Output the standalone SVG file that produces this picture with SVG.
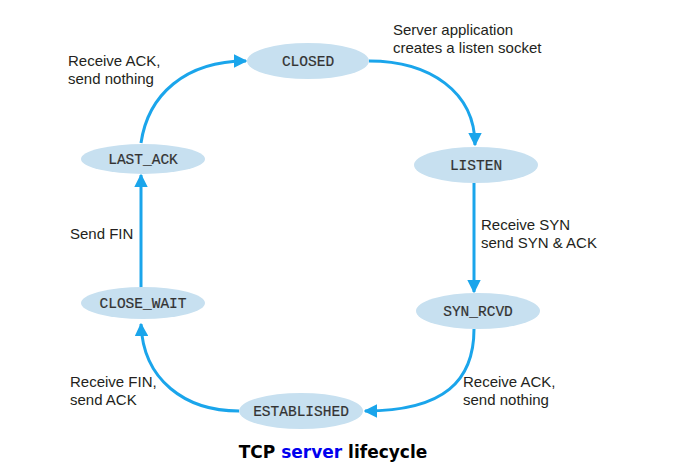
<svg xmlns="http://www.w3.org/2000/svg" width="698" height="470" viewBox="0 0 698 470">
<style>
.node ellipse{fill:#c7e0f0;stroke:none}
.node text{font-family:"Liberation Mono",monospace;font-size:14.5px;fill:#333;stroke:#333;stroke-width:0.2;text-anchor:middle}
.lbl{font-family:"Liberation Sans",Arial,sans-serif;font-size:15px;fill:#231f20}
.conn path{fill:none;stroke:#1aa5eb;stroke-width:3}
.title{font-family:"Comic Sans MS","DejaVu Sans",sans-serif;font-weight:bold;font-size:17px;text-anchor:middle}
</style>
<defs>
<marker id="ah" viewBox="0 0 10 10" refX="9" refY="5" markerWidth="4.5" markerHeight="4.5" orient="auto" markerUnits="strokeWidth">
<path d="M0,0 L10,5 L0,10 Z" fill="#1aa5eb"/>
</marker>
</defs>
<rect width="698" height="470" fill="#fff"/>
<g class="conn">
<path d="M141,143 C148,95 185,61 246,61" marker-end="url(#ah)"/>
<path d="M369,61 C430,61 475,92 475,145" marker-end="url(#ah)"/>
<path d="M474,183 L474,292" marker-end="url(#ah)"/>
<path d="M474,329 C474,380 445,411 365,411" marker-end="url(#ah)"/>
<path d="M239,411 C185,411 143,380 141,324" marker-end="url(#ah)"/>
<path d="M141,290 L141,175" marker-end="url(#ah)"/>
</g>
<g id="closed" class="node"><ellipse cx="308" cy="61" rx="61" ry="18"/><text x="308" y="66">CLOSED</text></g>
<g id="listen" class="node"><ellipse cx="476" cy="165" rx="62" ry="18"/><text x="476" y="170">LISTEN</text></g>
<g id="syn_rcvd" class="node"><ellipse cx="478" cy="311" rx="62" ry="18"/><text x="478" y="316">SYN_RCVD</text></g>
<g id="established" class="node"><ellipse cx="301" cy="411" rx="62" ry="18"/><text x="301" y="416">ESTABLISHED</text></g>
<g id="close_wait" class="node"><ellipse cx="143" cy="303" rx="62" ry="16"/><text x="143" y="308">CLOSE_WAIT</text></g>
<g id="last_ack" class="node"><ellipse cx="143" cy="159" rx="62" ry="15"/><text x="143" y="164">LAST_ACK</text></g>
<g id="labels">
<text class="lbl" x="68" y="66">Receive ACK,</text>
<text class="lbl" x="68" y="84">send nothing</text>
<text class="lbl" x="393" y="35">Server application</text>
<text class="lbl" x="393" y="53">creates a listen socket</text>
<text class="lbl" x="481" y="230">Receive SYN</text>
<text class="lbl" x="481" y="248">send SYN &amp; ACK</text>
<text class="lbl" x="70" y="239">Send FIN</text>
<text class="lbl" x="70" y="387">Receive FIN,</text>
<text class="lbl" x="70" y="405">send ACK</text>
<text class="lbl" x="463" y="387">Receive ACK,</text>
<text class="lbl" x="463" y="405">send nothing</text>
</g>
<text class="title" x="333" y="458">TCP <tspan fill="#0000ee">server</tspan> lifecycle</text>
</svg>
